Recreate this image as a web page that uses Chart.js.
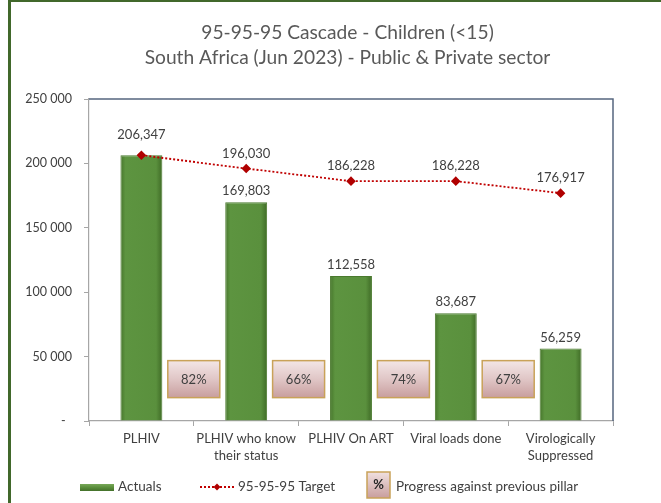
<!DOCTYPE html>
<html><head><meta charset="utf-8">
<script src="https://cdn.jsdelivr.net/npm/chart.js@4.4.0/dist/chart.umd.min.js"></script>
<style>
html,body{margin:0;padding:0;background:#fff;}
#wrap{position:relative;width:661px;height:503px;overflow:hidden;}
canvas{position:absolute;left:0;top:0;}
.bl{position:absolute;left:8px;top:0;width:3px;height:503px;background:#41682b;}
.bt{position:absolute;left:8px;top:0;width:653px;height:2px;background:#41682b;}
</style></head><body>
<div id="wrap"><canvas id="c" width="661" height="503"></canvas><div class="bl"></div><div class="bt"></div></div>
<script>
const titleLines = ['95-95-95 Cascade - Children (<15)', 'South Africa (Jun 2023) - Public & Private sector'];
const categories = ['PLHIV', ['PLHIV who know', 'their status'], 'PLHIV On ART', 'Viral loads done', ['Virologically', 'Suppressed']];
const actuals = [206347, 169803, 112558, 83687, 56259];
const target = [206347, 196030, 186228, 186228, 176917];
const progress = ['82%', '66%', '74%', '67%'];
const yMax = 250000;
const yStep = 50000;
const legendLabels = ['Actuals', '95-95-95 Target', 'Progress against previous pillar'];

const FONT = 'Lato, "Open Sans", sans-serif';
const fmtComma = v => v.toLocaleString('en-US');
const fmtSpace = v => v === 0 ? '-  ' : v.toLocaleString('en-US').replace(/,/g, ' ');

function barGradient(chart, i) {
  const xs = chart.scales.x;
  if (!xs || !chart.chartArea) return '#5a8e3c';
  const cx = xs.getPixelForValue(i);
  const hw = xs.width / categories.length * 0.4 / 2;
  const g = chart.ctx.createLinearGradient(cx - hw, 0, cx + hw, 0);
  g.addColorStop(0, '#46752b');
  g.addColorStop(0.12, '#5d9440');
  g.addColorStop(0.85, '#5a903d');
  g.addColorStop(1, '#3f6b26');
  return g;
}

const decorPlugin = {
  id: 'decor',
  afterDraw(chart) {
    const c = chart.ctx, a = chart.chartArea, xs = chart.scales.x, ys = chart.scales.y;
    c.save();
    // plot border top/right
    c.strokeStyle = '#56667f'; c.lineWidth = 1.5;
    c.beginPath(); c.moveTo(a.left, a.top); c.lineTo(a.right, a.top); c.lineTo(a.right, a.bottom); c.stroke();
    // title
    c.fillStyle = '#595959'; c.textAlign = 'center'; c.textBaseline = 'middle';
    c.font = '19.2px ' + FONT;
    c.fillText(titleLines[0], 347.5, 33);
    c.fillText(titleLines[1], 347.5, 58);
    // progress boxes
    const bw = 52, bh = 37;
    progress.forEach((p, i) => {
      const cx = (xs.getPixelForValue(i) + xs.getPixelForValue(i + 1)) / 2;
      const cy = ys.getPixelForValue(32500);
      const g = c.createLinearGradient(0, cy - bh / 2, 0, cy + bh / 2);
      g.addColorStop(0, '#f3e6e6'); g.addColorStop(0.5, '#e0c6c6'); g.addColorStop(1, '#c89e9e');
      c.fillStyle = g; c.fillRect(cx - bw / 2, cy - bh / 2, bw, bh);
      c.strokeStyle = '#c9a259'; c.lineWidth = 1.5; c.strokeRect(cx - bw / 2, cy - bh / 2, bw, bh);
      c.fillStyle = '#404040'; c.font = '13px ' + FONT; c.textAlign = 'center'; c.textBaseline = 'middle';
      c.fillText(p, cx, cy + 1);
    });
    // data labels
    c.fillStyle = '#404040'; c.font = '13px ' + FONT; c.textAlign = 'center'; c.textBaseline = 'middle';
    const barMeta = chart.getDatasetMeta(0), lineMeta = chart.getDatasetMeta(1);
    actuals.forEach((v, i) => {
      if (v !== target[i]) {
        const el = barMeta.data[i];
        c.fillText(fmtComma(v), el.x, el.y - 11);
      }
    });
    target.forEach((v, i) => {
      const el = lineMeta.data[i];
      c.fillText(fmtComma(v), el.x, el.y - (i === 0 ? 20 : 15));
    });
    // legend
    const ly = 487;
    const lg = c.createLinearGradient(0, 484, 0, 491);
    lg.addColorStop(0, '#78a858'); lg.addColorStop(0.5, '#5a8e3c'); lg.addColorStop(1, '#43702a');
    c.fillStyle = lg; c.fillRect(80, 484, 34, 7);
    c.fillStyle = '#404040'; c.font = '13.5px ' + FONT; c.textAlign = 'left';
    c.fillText(legendLabels[0], 118, ly);
    c.strokeStyle = '#c00000'; c.lineWidth = 1.8; c.setLineDash([2, 2]);
    c.beginPath(); c.moveTo(200, ly); c.lineTo(234, ly); c.stroke(); c.setLineDash([]);
    c.fillStyle = '#b00000';
    c.beginPath(); c.moveTo(217, ly - 3.5); c.lineTo(220.5, ly); c.lineTo(217, ly + 3.5); c.lineTo(213.5, ly); c.closePath(); c.fill();
    c.fillStyle = '#404040'; c.fillText(legendLabels[1], 238, ly);
    const pg = c.createLinearGradient(0, 472, 0, 498);
    pg.addColorStop(0, '#f0e0e0'); pg.addColorStop(1, '#c89e9e');
    c.fillStyle = pg; c.fillRect(367, 472, 23, 26);
    c.strokeStyle = '#c9a259'; c.lineWidth = 1.5; c.strokeRect(367, 472, 23, 26);
    c.fillStyle = '#262626'; c.font = 'bold 13px ' + FONT; c.textAlign = 'center';
    c.fillText('%', 378.5, 485);
    c.fillStyle = '#404040'; c.font = '13.5px ' + FONT; c.textAlign = 'left';
    c.fillText(legendLabels[2], 396, ly);
    c.restore();
  }
};

new Chart(document.getElementById('c'), {
  data: {
    labels: categories,
    datasets: [
      {
        type: 'bar', label: legendLabels[0], data: actuals, order: 2,
        backgroundColor: ctx => barGradient(ctx.chart, ctx.dataIndex),
        borderColor: '#4a7a2e', borderWidth: 1,
        categoryPercentage: 1, barPercentage: 0.4
      },
      {
        type: 'line', label: legendLabels[1], data: target, order: 1,
        borderColor: '#c00000', borderWidth: 1.8, borderDash: [2, 2],
        pointStyle: 'rectRot', pointRadius: 3.5, pointBackgroundColor: '#b00000', pointBorderColor: '#b00000',
        fill: false, tension: 0
      }
    ]
  },
  options: {
    responsive: false, animation: false,
    layout: { padding: { top: 99, right: 48, left: 0, bottom: 0 } },
    plugins: { legend: { display: false }, title: { display: false }, tooltip: { enabled: false } },
    scales: {
      x: {
        offset: true,
        grid: { drawOnChartArea: false, drawTicks: true, tickLength: 5, color: '#a6a6a6', offset: true },
        border: { color: '#a6a6a6', width: 1.2 },
        ticks: { color: '#404040', font: { family: FONT, size: 13, lineHeight: 1.3 }, padding: 4, maxRotation: 0, autoSkip: false },
        afterFit: s => { s.height = 82; }
      },
      y: {
        min: 0, max: yMax,
        grid: { drawOnChartArea: false, drawTicks: true, tickLength: 5, color: '#a6a6a6' },
        border: { color: '#a6a6a6', width: 1.2 },
        ticks: { stepSize: yStep, color: '#404040', font: { family: FONT, size: 12.5 }, padding: 12, callback: v => fmtSpace(v) },
        afterFit: s => { s.width = 89; }
      }
    }
  },
  plugins: [decorPlugin]
});
</script>
</body></html>
